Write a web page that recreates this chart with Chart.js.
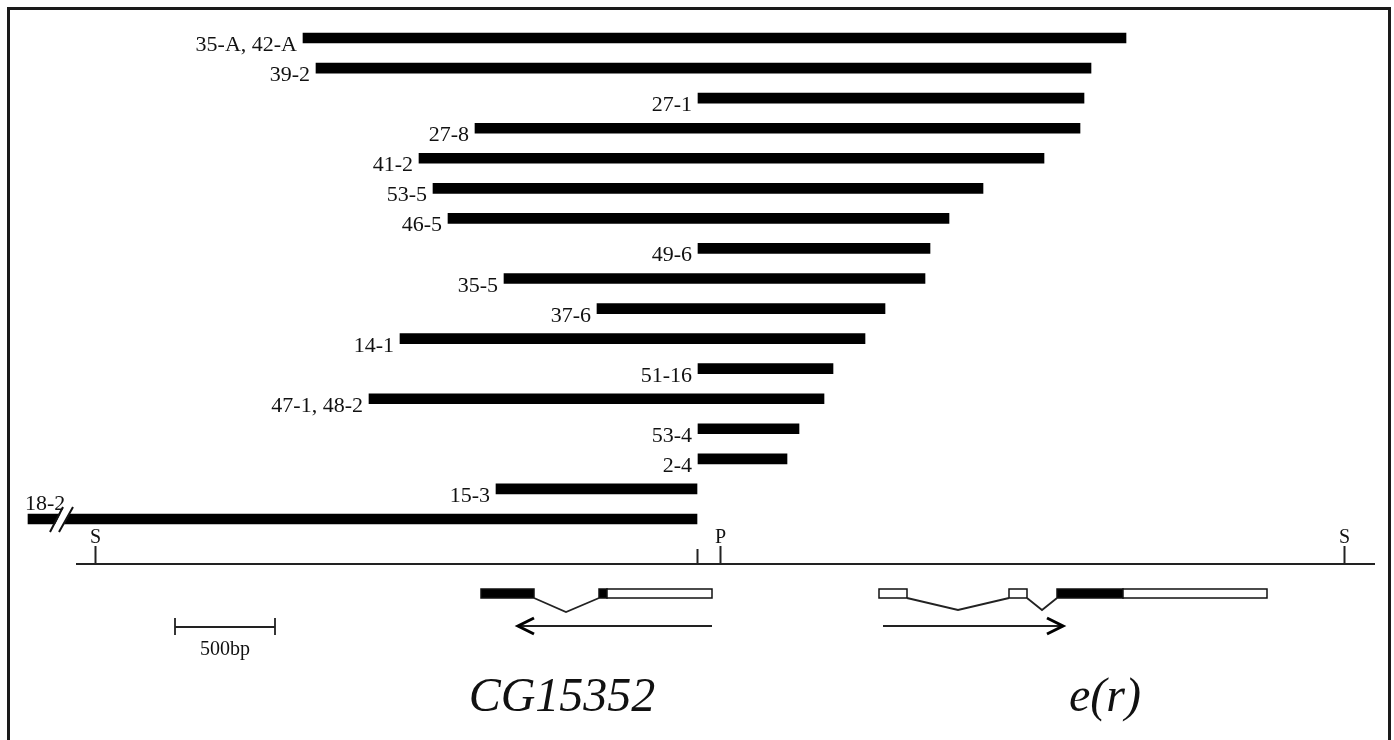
<!DOCTYPE html>
<html>
<head>
<meta charset="utf-8">
<script src="https://cdn.jsdelivr.net/npm/chart.js@4/dist/chart.umd.min.js"></script>
<style>
  html, body { margin: 0; padding: 0; background: #fff; }
  #wrap { width: 1394px; height: 740px; position: relative; }
</style>
</head>
<body>
<div id="wrap"><canvas id="c"></canvas></div>
<script>
// Deletions (positions in bp, 0 = left SalI site)
const deletions = ['35-A, 42-A','39-2','27-1','27-8','41-2','53-5','46-5','49-6','35-5','37-6','14-1','51-16','47-1, 48-2','53-4','2-4','15-3','18-2'];
const delStart  = [1040, 1105, 3015, 1900, 1620, 1690, 1765, 3015, 2045, 2510, 1525, 3015, 1370, 3015, 3015, 2005, -335];
const delEnd    = [5155, 4980, 4945, 4925, 4745, 4440, 4270, 4175, 4150, 3950, 3850, 3690, 3645, 3520, 3460, 3010, 3010];

// Restriction map
const siteLabels = ['S', '', 'P', 'S'];
const sitePos    = [0, 3010, 3125, 6245];
const mapRange   = [-95, 6400];

// Gene models: [start, end, filled]
const cgExons  = [[1930, 2195, true], [2520, 2560, true], [2560, 3085, false]];
const cgIntron = [2355];
const cgArrow  = [3085, 2115];
const erExons  = [[3920, 4060, false], [4570, 4660, false], [4810, 5140, true], [5140, 5860, false]];
const erIntron = [4315, 4735];
const erArrow  = [3940, 4840];
const geneNames = ['CG15352', 'e(r)'];
const scaleBar = [400, 900];
const scaleLabel = '500bp';

const SERIF = '"Liberation Serif", "Times New Roman", serif';

const drawPlugin = {
  id: 'mapDraw',
  afterDatasetsDraw(chart) {
    const ctx = chart.ctx;
    const xs = chart.scales.x, ys = chart.scales.y;
    const px = v => xs.getPixelForValue(v);
    ctx.save();
    // bar labels
    ctx.fillStyle = '#111';
    ctx.font = '22px ' + SERIF;
    deletions.forEach((name, i) => {
      const yc = ys.getPixelForValue(i);
      const x0 = px(delStart[i]);
      ctx.textBaseline = 'alphabetic';
      if (i === deletions.length - 1) {
        ctx.textAlign = 'left';
        ctx.fillText(name, x0 - 3, yc - 9);
      } else {
        ctx.textAlign = 'right';
        ctx.fillText(name, x0 - 6, yc + 13);
      }
    });
    // break mark on the last deletion
    const last = deletions.length - 1;
    const yb = ys.getPixelForValue(last);
    const bx = px(-200);
    ctx.fillStyle = '#fff';
    ctx.beginPath();
    ctx.moveTo(bx - 4, yb + 13); ctx.lineTo(bx + 9, yb - 12);
    ctx.lineTo(bx + 18, yb - 12); ctx.lineTo(bx + 5, yb + 13);
    ctx.closePath(); ctx.fill();
    ctx.strokeStyle = '#111'; ctx.lineWidth = 2;
    ctx.beginPath();
    ctx.moveTo(bx - 5, yb + 13); ctx.lineTo(bx + 8, yb - 12);
    ctx.moveTo(bx + 4, yb + 13); ctx.lineTo(bx + 18, yb - 12);
    ctx.stroke();

    // restriction map line
    const yMap = 564;
    ctx.strokeStyle = '#222'; ctx.lineWidth = 2;
    ctx.beginPath();
    ctx.moveTo(px(mapRange[0]), yMap); ctx.lineTo(px(mapRange[1]), yMap);
    ctx.stroke();
    ctx.font = '20px ' + SERIF;
    ctx.fillStyle = '#111';
    ctx.textAlign = 'center';
    sitePos.forEach((p, i) => {
      const x = Math.round(px(p)) + 0.5;
      ctx.beginPath();
      ctx.moveTo(x, yMap); ctx.lineTo(x, siteLabels[i] === '' ? 549 : 546);
      ctx.stroke();
      if (siteLabels[i]) ctx.fillText(siteLabels[i], x, 543);
    });

    // gene models
    const yTop = 589, yBot = 598;
    function exon(s, e, filled) {
      const x0 = px(s), x1 = px(e);
      ctx.fillStyle = filled ? '#000' : '#fff';
      ctx.fillRect(x0, yTop, x1 - x0, yBot - yTop);
      ctx.lineWidth = 1.5; ctx.strokeStyle = '#111';
      ctx.strokeRect(x0, yTop, x1 - x0, yBot - yTop);
    }
    function intron(a, apex, b, depth) {
      ctx.lineWidth = 1.8; ctx.strokeStyle = '#222';
      ctx.beginPath();
      ctx.moveTo(px(a), yBot); ctx.lineTo(px(apex), yBot + depth); ctx.lineTo(px(b), yBot);
      ctx.stroke();
    }
    cgExons.forEach(e => exon(e[0], e[1], e[2]));
    intron(cgExons[0][1], cgIntron[0], cgExons[1][0], 14);
    erExons.forEach(e => exon(e[0], e[1], e[2]));
    intron(erExons[0][1], erIntron[0], erExons[1][0], 12);
    intron(erExons[1][1], erIntron[1], erExons[2][0], 12);

    function arrow(from, to) {
      const y = 626;
      const x0 = px(from), x1 = px(to);
      const dir = Math.sign(x1 - x0);
      ctx.strokeStyle = '#222'; ctx.lineWidth = 1.8;
      ctx.beginPath(); ctx.moveTo(x0, y); ctx.lineTo(x1, y); ctx.stroke();
      ctx.strokeStyle = '#000'; ctx.lineWidth = 3; ctx.lineJoin = 'miter';
      ctx.beginPath();
      ctx.moveTo(x1 - dir * 16, y - 8); ctx.lineTo(x1, y); ctx.lineTo(x1 - dir * 16, y + 8);
      ctx.stroke();
    }
    arrow(cgArrow[0], cgArrow[1]);
    arrow(erArrow[0], erArrow[1]);

    // scale bar
    ctx.strokeStyle = '#222'; ctx.lineWidth = 1.8;
    const s0 = px(scaleBar[0]), s1 = px(scaleBar[1]);
    ctx.beginPath();
    ctx.moveTo(s0, 627); ctx.lineTo(s1, 627);
    ctx.moveTo(s0, 618); ctx.lineTo(s0, 635);
    ctx.moveTo(s1, 618); ctx.lineTo(s1, 635);
    ctx.stroke();
    ctx.fillStyle = '#111';
    ctx.font = '20px ' + SERIF;
    ctx.textAlign = 'center';
    ctx.fillText(scaleLabel, (s0 + s1) / 2, 655);

    // gene names
    ctx.font = 'italic 48px ' + SERIF;
    ctx.fillText(geneNames[0], 562, 711);
    ctx.fillText(geneNames[1], 1105, 711);

    // frame
    ctx.strokeStyle = '#1a1a1a'; ctx.lineWidth = 3;
    ctx.beginPath();
    ctx.moveTo(8.5, 745); ctx.lineTo(8.5, 8.5); ctx.lineTo(1389.5, 8.5); ctx.lineTo(1389.5, 745);
    ctx.stroke();
    ctx.restore();
  }
};

new Chart(document.getElementById('c'), {
  type: 'bar',
  data: {
    labels: deletions,
    datasets: [{
      data: delStart.map((s, i) => [s, delEnd[i]]),
      backgroundColor: '#000',
      borderWidth: 0,
      borderSkipped: false,
      barThickness: 10
    }]
  },
  options: {
    indexAxis: 'y',
    responsive: true,
    maintainAspectRatio: false,
    animation: false,
    layout: { padding: { top: 23, bottom: 206, left: 0, right: 0 } },
    plugins: { legend: { display: false }, tooltip: { enabled: false } },
    scales: {
      x: { type: 'linear', min: -475, max: 6495, display: false },
      y: { type: 'category', display: false, offset: true }
    }
  },
  plugins: [drawPlugin]
});
</script>
</body>
</html>
